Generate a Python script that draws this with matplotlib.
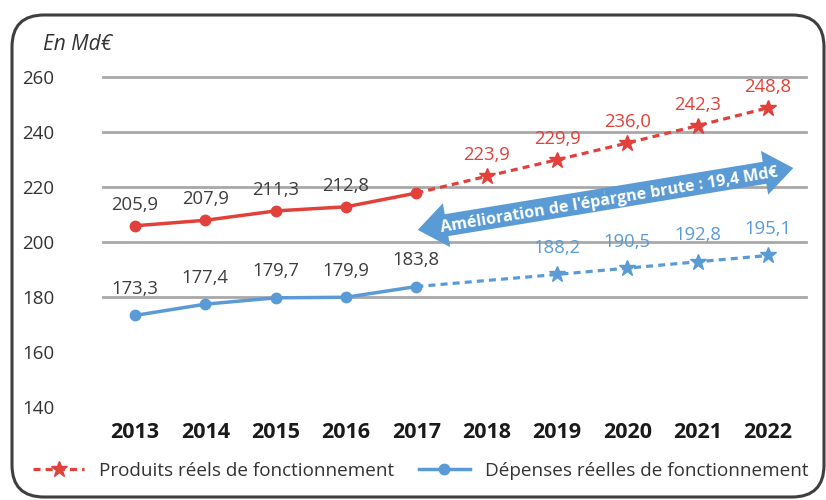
import matplotlib
matplotlib.use("Agg")
import matplotlib.pyplot as plt
from matplotlib.patches import FancyBboxPatch, FancyArrowPatch
from matplotlib.lines import Line2D
from matplotlib.transforms import IdentityTransform
import numpy as np

plt.rcParams['font.family'] = ['Open Sans', 'DejaVu Sans']

years = [2013, 2014, 2015, 2016, 2017, 2018, 2019, 2020, 2021, 2022]
produits = [205.9, 207.9, 211.3, 212.8, 217.8, 223.9, 229.9, 236.0, 242.3, 248.8]
produits_labels = ["205,9", "207,9", "211,3", "212,8", "", "223,9", "229,9", "236,0", "242,3", "248,8"]
depenses = [173.3, 177.4, 179.7, 179.9, 183.8, None, 188.2, 190.5, 192.8, 195.1]
depenses_labels = ["173,3", "177,4", "179,7", "179,9", "183,8", "", "188,2", "190,5", "192,8", "195,1"]
last_real_year = 2017
yticks = [140, 160, 180, 200, 220, 240, 260]
grid_values = [180, 200, 220, 240, 260]
arrow_text = "Amélioration de l'épargne brute : 19,4 Md€"
unit_text = "En Md€"
legend_labels = ["Produits réels de fonctionnement", "Dépenses réelles de fonctionnement"]

RED = "#e2403a"
BLUE = "#5b9bd5"
DARK = "#3d3d3d"

W, H = 826, 500
fig = plt.figure(figsize=(W / 100, H / 100), dpi=100)
ax = fig.add_axes([103 / W, 1 - 407 / H, (806 - 103) / W, (407 - 77) / H])
ax.set_xlim(2012.545, 2022.54)
ax.set_ylim(140, 260)
for s in ax.spines.values():
    s.set_visible(False)

for g in grid_values:
    ax.axhline(g, color="#a8a8a8", lw=2.0, zorder=1, clip_on=False)

ax.set_yticks(yticks)
ax.set_yticklabels([str(v) for v in yticks], fontsize=13.5, color="#333333")
ax.set_xticks(years)
ax.set_xticklabels([str(y) for y in years], fontsize=15.5, fontweight="bold", color="#1a1a1a")
ax.tick_params(axis="x", length=0, pad=11)
for lbl in ax.get_yticklabels():
    lbl.set_horizontalalignment("left")
ax.tick_params(axis="y", length=0, pad=58)


def split(vals):
    past_x, past_y, fut_x, fut_y = [], [], [], []
    for x, v in zip(years, vals):
        if v is None:
            continue
        if x <= last_real_year:
            past_x.append(x); past_y.append(v)
        if x >= last_real_year:
            fut_x.append(x); fut_y.append(v)
    return past_x, past_y, fut_x, fut_y


for vals, labels, color, off in [(produits, produits_labels, RED, 15),
                                 (depenses, depenses_labels, BLUE, 19)]:
    px, py, fx, fy = split(vals)
    ax.plot(fx, fy, color=color, lw=2.3, ls=(0, (2.2, 1.6)), zorder=3)
    ax.plot(fx[1:], fy[1:], ls="none", marker="*", ms=12, color=color, zorder=4)
    ax.plot(px, py, color=color, lw=2.5, marker="o", ms=7.5, zorder=5)
    for x, v, t in zip(years, vals, labels):
        if v is None or not t:
            continue
        tc = DARK if x <= last_real_year else color
        ax.annotate(t, (x, v), xytext=(0, off), textcoords="offset points",
                    ha="center", va="center", fontsize=13.3, color=tc, zorder=6)

# double arrow
arr_l = (2017.02, 204.4)
arr_r = (2022.36, 226.9)
mid = ((arr_l[0] + arr_r[0]) / 2, (arr_l[1] + arr_r[1]) / 2)
style = "simple,head_width=32,head_length=21,tail_width=16"
for end in (arr_l, arr_r):
    ax.add_patch(FancyArrowPatch(mid, end, arrowstyle=style, mutation_scale=1,
                                 color=BLUE, lw=0, zorder=7, shrinkA=0, shrinkB=0))
p1 = ax.transData.transform(arr_l)
p2 = ax.transData.transform(arr_r)
ang = np.degrees(np.arctan2(p2[1] - p1[1], p2[0] - p1[0]))
ax.text(mid[0] + 0.05, mid[1] - 0.4, arrow_text, rotation=ang, rotation_mode="anchor",
        ha="center", va="center", fontsize=11.6, fontweight="bold", color="white", zorder=8)

fig.text(43 / W, 1 - 45 / H, unit_text, fontsize=15, style="italic", color="#333333",
         ha="left", va="center")

handles = [Line2D([0], [0], color=RED, lw=2.3, ls=(0, (2.2, 1.6)), marker="*", ms=12),
           Line2D([0], [0], color=BLUE, lw=2.5, marker="o", ms=7.5)]
fig.legend(handles, legend_labels, loc="center left", bbox_to_anchor=(33 / W, 1 - 471 / H),
           ncol=2, frameon=False, fontsize=13.6, handlelength=2.7, handletextpad=0.8,
           columnspacing=1.3, borderpad=0, borderaxespad=0, labelcolor="#333333")

box = FancyBboxPatch((12, 3), 812, 482, boxstyle="round,pad=0,rounding_size=32",
                     transform=IdentityTransform(), fill=False, ec="#3f3f3f", lw=2.2,
                     figure=fig)
fig.patches.append(box)

fig.savefig("out.png", dpi=100)
